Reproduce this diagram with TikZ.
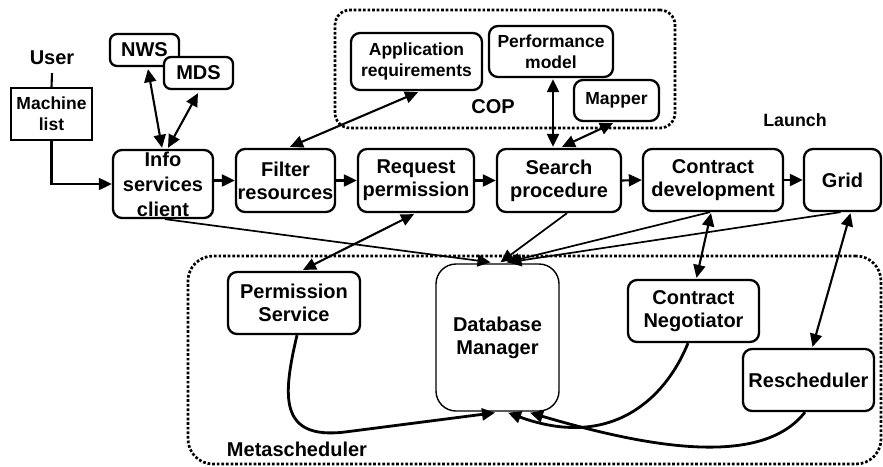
\documentclass[tikz,border=0pt]{standalone}
\usepackage{fontspec}
\setmainfont{Liberation Sans}
\usetikzlibrary{arrows.meta,calc}
\newcommand\bigf{\fontsize{20}{23}\selectfont\bfseries}
\newcommand\smallf{\fontsize{17.5}{21}\selectfont\bfseries}
\tikzset{
  box/.style={draw, line width=2.3pt, rounded corners=9pt, fill=white, align=center, inner sep=0pt, font=\bigf},
  sbox/.style={box, font=\smallf},
  thinbox/.style={draw, line width=1.4pt, fill=white, align=center, inner sep=0pt},
  dotbox/.style={draw, line width=2.7pt, dash pattern=on 2.7pt off 1.9pt},
  lbl/.style={inner sep=0pt, font=\bigf},
  ar/.style={line width=2.1pt, -{Triangle[length=13pt,width=12pt]}},
  dar/.style={line width=2.1pt, {Triangle[length=13pt,width=12pt]}-{Triangle[length=13pt,width=12pt]}},
  tar/.style={line width=1.7pt, -{Triangle[length=13pt,width=12pt]}},
  car/.style={line width=2.8pt, -{Triangle[length=13pt,width=12pt]}},
  plain/.style={line width=2.1pt}
}
\begin{document}
\begin{tikzpicture}[x=1pt,y=-1pt]
\useasboundingbox (0,0) rectangle (883,466);
% dotted group boxes
\node[dotbox, rounded corners=15pt, minimum width=340pt, minimum height=118pt] (copbox) at (505,69) {};
\node[dotbox, rounded corners=25pt, minimum width=693pt, minimum height=208pt] (metabox) at (534.5,360) {};
% labels
\node[lbl] (user) at (52,58) {User};
\node[lbl] (cop) at (493,107) {COP};
\node[lbl, font=\fontsize{17.8}{21}\selectfont\bfseries] (launch) at (795,120) {Launch};
\node[lbl] (metalbl) at (297,449) {Metascheduler};
% nodes
\node[thinbox, font=\smallf, minimum width=81pt, minimum height=52pt] (mlist) at (51.5,114) {Machine\\list};
\node[box, rounded corners=7pt, minimum width=69pt, minimum height=32pt] (nws) at (144.5,50) {NWS};
\node[box, rounded corners=7pt, minimum width=69pt, minimum height=32pt] (mds) at (198.5,73) {MDS};
\node[box, font=\fontsize{20}{25}\selectfont\bfseries, minimum width=100pt, minimum height=68pt] (info) at (163,184) {Info\\services\\client};
\node[box, minimum width=99pt, minimum height=63pt] (filter) at (285.5,180.5) {Filter\\resources};
\node[box, minimum width=116pt, minimum height=63pt] (request) at (416,180.5) {Request\\permission};
\node[box, minimum width=124pt, minimum height=63pt] (search) at (559,180.5) {Search\\procedure};
\node[box, minimum width=140pt, minimum height=62pt] (contract) at (713,180) {Contract\\development};
\node[box, minimum width=77pt, minimum height=62pt] (grid) at (842.5,180) {Grid};
\node[sbox, minimum width=131pt, minimum height=57pt] (appreq) at (416.5,61.5) {Application\\requirements};
\node[sbox, minimum width=124pt, minimum height=51pt] (perf) at (551,51.5) {Performance\\model};
\node[sbox, minimum width=85pt, minimum height=41pt] (mapper) at (616.5,100.5) {Mapper};
\node[box, minimum width=132pt, minimum height=62pt] (perm) at (294,303) {Permission\\Service};
\node[box, line width=1.4pt, rounded corners=20pt, minimum width=123pt, minimum height=147pt] (db) at (497.5,337.5) {Database\\Manager};
\node[box, minimum width=131pt, minimum height=62pt] (negot) at (693.5,311) {Contract\\Negotiator};
\node[box, minimum width=131pt, minimum height=62pt] (resch) at (808.5,380) {Rescheduler};
% connectors
\draw[plain] ($(user.south)+(0,8)$) -- (mlist.north);
\draw[ar] (mlist.south) |- (info.west);
\draw[dar] ($(nws.south)+(3.5,2)$) -- ($(info.north)+(-1,-1)$);
\draw[dar] ($(mds.south)+(-0.5,3)$) -- ($(info.north)+(5,-1)$);
\draw[ar] (info.east |- filter.west) -- (filter.west);
\draw[ar] (filter.east) -- (request.west);
\draw[ar] (request.east) -- (search.west);
\draw[ar] (search.east) -- (contract.west);
\draw[ar] (contract.east) -- (grid.west);
\draw[dar] ($(appreq.south)+(1.5,1)$) -- ($(filter.north)+(4.5,-1)$);
\draw[dar] ($(perf.south)+(2,1)$) -- ($(search.north)+(-6,-1)$);
\draw[dar] ($(mapper.south)+(-3.5,1)$) -- ($(search.north)+(3,-1)$);
\draw[tar] ($(info.south)+(2,0)$) -- ($(db.north)+(-7,-1)$);
\draw[dar] ($(request.south)+(-2,1)$) -- ($(perm.north)+(9,-1)$);
\draw[tar] ($(search.south)+(8,0)$) -- ($(db.north)+(3,-1)$);
\draw[tar] ($(contract.south)+(-3,0)$) -- ($(db.north)+(9,-1)$);
\draw[tar] ($(grid.south)+(-2,0)$) -- ($(db.north)+(11,-1)$);
\draw[dar] ($(contract.south)+(-2,1)$) -- ($(negot.north)+(3,-1)$);
\draw[dar] ($(grid.south)+(8,1)$) -- ($(resch.north)+(4,-1)$);
\draw[car] ($(perm.south)+(3,0)$) .. controls (283,395) and (278,440) .. (345,432) -- ($(db.south)+(-2.5,1)$);
\draw[car] ($(negot.south)+(-5.5,0)$) .. controls (665,400) and (610,450) .. ($(db.south)+(10.5,1)$);
\draw[car] ($(resch.south)+(-3.5,0)$) .. controls (760,470) and (640,445) .. ($(db.south)+(32.5,1)$);
\end{tikzpicture}
\end{document}
